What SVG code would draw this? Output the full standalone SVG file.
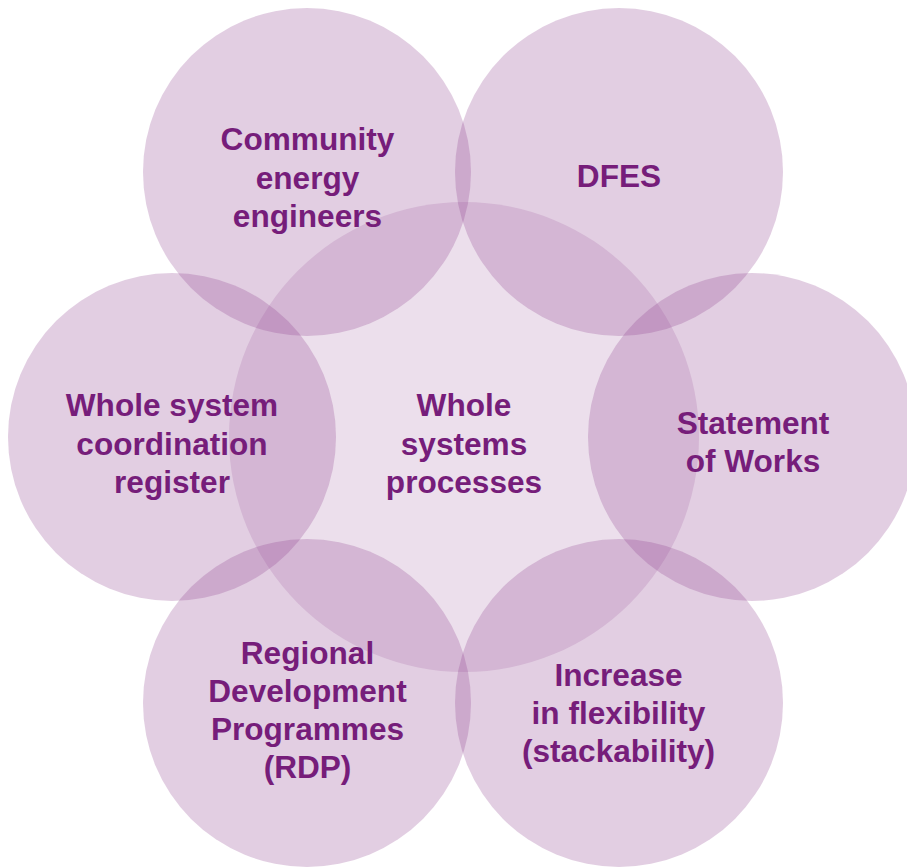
<svg xmlns="http://www.w3.org/2000/svg" width="907" height="868" viewBox="0 0 907 868">
<style>
.outer{fill:#8c3c8c;fill-opacity:0.25}
.center{fill:#8c3c8c;fill-opacity:0.165}
text{font-family:"Liberation Sans",Arial,sans-serif;font-weight:bold;font-size:31.6px;fill:#761d7a;text-anchor:middle}
</style>
<rect width="907" height="868" fill="#ffffff"/>
<g id="node-center">
<circle class="center" cx="464" cy="437" r="235"/>
<text x="464" y="416">Whole</text>
<text x="464" y="454.5">systems</text>
<text x="464" y="493">processes</text>
</g>
<g id="node-community">
<circle class="outer" cx="307" cy="172" r="164"/>
<text x="307.5" y="150">Community</text>
<text x="307.5" y="188.5">energy</text>
<text x="307.5" y="227">engineers</text>
</g>
<g id="node-dfes">
<circle class="outer" cx="619" cy="172" r="164"/>
<text x="619" y="187">DFES</text>
</g>
<g id="node-statement">
<circle class="outer" cx="752" cy="437" r="164"/>
<text x="753" y="433.5">Statement</text>
<text x="753" y="472">of Works</text>
</g>
<g id="node-flexibility">
<circle class="outer" cx="619" cy="703" r="164"/>
<text x="618.5" y="686">Increase</text>
<text x="618.5" y="724">in flexibility</text>
<text x="618.5" y="762">(stackability)</text>
</g>
<g id="node-rdp">
<circle class="outer" cx="307" cy="703" r="164"/>
<text x="307.5" y="664">Regional</text>
<text x="307.5" y="702">Development</text>
<text x="307.5" y="740">Programmes</text>
<text x="307.5" y="778">(RDP)</text>
</g>
<g id="node-register">
<circle class="outer" cx="172" cy="437" r="164"/>
<text x="172" y="416">Whole system</text>
<text x="172" y="454.5">coordination</text>
<text x="172" y="493">register</text>
</g>
<g id="connectors"></g>
</svg>
